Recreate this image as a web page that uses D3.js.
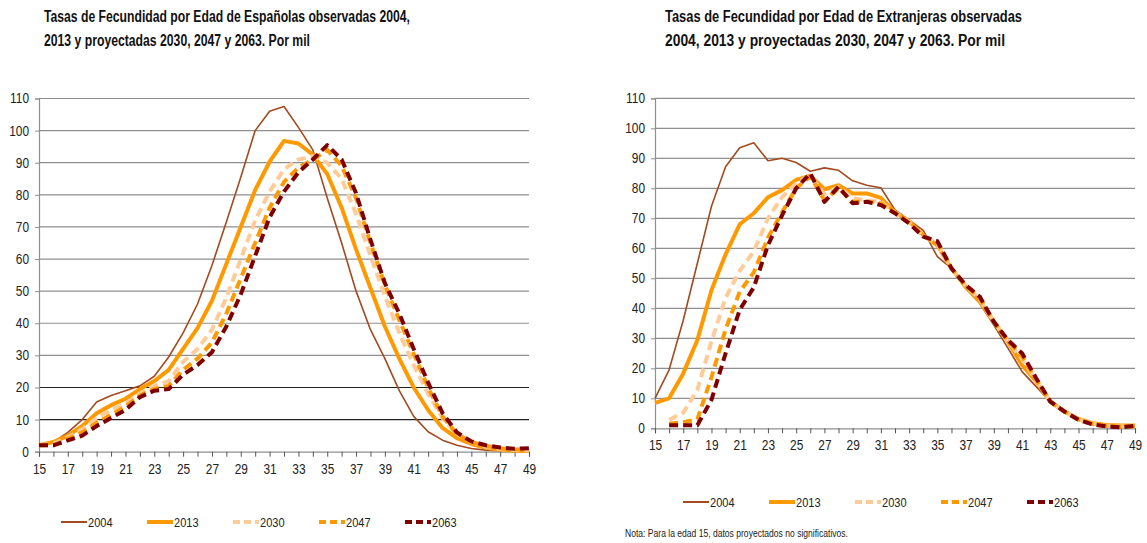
<!DOCTYPE html>
<html>
<head>
<meta charset="utf-8">
<script src="https://cdn.jsdelivr.net/npm/d3@7"></script>
<style>
  body { margin: 0; background: #fff; }
  svg text { font-family: "Liberation Sans", Arial, sans-serif; fill: #222; }
  .title { font-weight: bold; font-size: 16px; fill: #111; }
  .tick text { font-size: 14px; }
  .legend text { font-size: 13px; }
  .note { font-size: 10px; }
</style>
</head>
<body>
<div id="chart"></div>
<script>
// ages shown on the x axis
const ages = [15, 16, 17, 18, 19, 20, 21, 22, 23, 24, 25, 26, 27, 28, 29, 30, 31, 32,
  33, 34, 35, 36, 37, 38, 39, 40, 41, 42, 43, 44, 45, 46, 47, 48, 49];
const years = ["2004", "2013", "2030", "2047", "2063"];
const yTicks = [0, 10, 20, 30, 40, 50, 60, 70, 80, 90, 100, 110];

// Españolas, por mil
const es2004 = [2, 3, 6, 10, 15.5, 17.5, 19, 20.5, 23.5, 29.5, 37, 46, 58, 71.5, 85.5, 100, 106, 107.5,
  101, 94, 79, 65, 50, 38, 29, 19, 11, 6.2, 3.6, 2, 1, 0.5, 0.3, 0.2, 0.1];
const es2013 = [2, 3, 5, 8, 12, 14.5, 16.5, 19.5, 22, 25.5, 32, 38.5, 47, 58.5, 70, 81.5, 90.3, 96.8,
  96, 92.5, 86.5, 76, 63, 51, 39, 29, 20, 13, 7.4, 4.2, 2.4, 1.2, 0.6, 0.3, 0.2];
const es2030 = [2, 2.5, 4.5, 7, 10.5, 13, 15, 18, 20.5, 22, 28, 32, 38, 48, 60, 72, 81, 88,
  91, 92, 90, 85, 74, 61, 48.5, 37, 27, 18, 10.5, 5.5, 3, 1.5, 0.8, 0.5, 0.4];
const es2047 = [2, 2, 4, 6, 9, 11.5, 14, 17.5, 19.5, 20.5, 25.5, 29, 34, 43, 54, 65, 76, 84,
  88.5, 91, 94, 89, 79, 65, 52, 41, 30.5, 20, 11, 5.5, 3, 1.8, 1, 0.7, 0.8];
const es2063 = [2, 2, 3.5, 5, 8, 10.5, 13, 17, 19, 19.5, 24, 27, 31, 39, 49, 61, 73, 81,
  87, 91, 95.5, 91, 80.5, 66, 52.5, 43, 32, 21.5, 12, 6, 3.2, 2, 1.3, 0.9, 1.1];

// Extranjeras, por mil (edad 15 no significativa en proyecciones)
const ex2004 = [10, 19.5, 36, 55, 74, 87.2, 93.5, 95.2, 89.2, 90, 88.6, 85.7, 86.8, 86, 82.5, 81, 80.2, 72.8,
  69.4, 66, 57.2, 53.3, 46.7, 41.7, 34.4, 26.7, 18.9, 13.9, 8.9, 5.6, 2.8, 1.4, 0.8, 0.6, 0.6];
const ex2013 = [8.5, 10, 18.3, 29.4, 46, 58, 68, 71.7, 77, 79.4, 82.8, 84.2, 79.7, 81, 78.3, 78.3, 76.8, 72,
  69, 64.4, 61, 53.3, 47.2, 42.2, 35.5, 28.9, 21.1, 15.6, 8.9, 5.6, 3.1, 1.7, 1.1, 0.9, 0.9];
const ex2030 = [null, 2.8, 5.2, 12.8, 29, 43.5, 52.5, 59, 70, 77, 81.7, 84.4, 78, 80.5, 76.7, 76, 75.5, 72,
  68.8, 64, 61.5, 53.3, 47.5, 43, 35.5, 29, 23, 16, 8.9, 5.6, 3, 1.5, 0.8, 0.6, 0.8];
const ex2047 = [null, 1.5, 2, 3, 17, 33, 45.5, 52, 63.5, 72, 80, 84, 76, 80, 75.5, 75.5, 75, 71.8,
  68.5, 64, 62, 53.3, 47.6, 43.5, 35.5, 29.2, 24, 16.3, 8.9, 5.6, 2.9, 1.4, 0.7, 0.4, 0.8];
const ex2063 = [null, 1, 1, 1, 9.5, 25, 39.5, 47, 61, 71, 80, 85, 75.5, 80.5, 75, 75.5, 74.4, 71.7,
  68.3, 63.9, 62.4, 53.3, 47.8, 43.9, 35.5, 29.4, 25, 16.7, 8.9, 5.6, 2.8, 1.3, 0.6, 0.3, 0.8];

const styles = {
  "2004": { color: "#A34A1F", width: 1.6, dash: null },
  "2013": { color: "#FF9900", width: 4, dash: null },
  "2030": { color: "#FFCC99", width: 4, dash: "9,5" },
  "2047": { color: "#FF9900", width: 4, dash: "9,5" },
  "2063": { color: "#7F0000", width: 4, dash: "9,5" }
};

const svg = d3.select("#chart").append("svg")
  .attr("width", 1147)
  .attr("height", 543);

// the original uses a condensed face; squeeze the glyphs to match its widths
function narrow(sel, factor) {
  sel.each(function () {
    const w = this.getComputedTextLength();
    d3.select(this)
      .attr("textLength", w * factor)
      .attr("lengthAdjust", "spacingAndGlyphs");
  });
}

function drawPanel(cfg) {
  const x = d3.scaleLinear().domain([15, 49]).range([cfg.left, cfg.right]);
  const y = d3.scaleLinear().domain([0, 110]).range([cfg.bottom, cfg.top]);
  const g = svg.append("g");

  // title
  g.selectAll("text.title")
    .data(cfg.title)
    .join("text")
    .attr("class", "title")
    .attr("x", cfg.titleX)
    .attr("y", (d, i) => 22 + i * 24)
    .text(d => d)
    .attr("textLength", (d, i) => cfg.titleW[i])
    .attr("lengthAdjust", "spacingAndGlyphs");

  // gridlines
  g.selectAll("line.grid")
    .data(yTicks.filter(v => v > 0))
    .join("line")
    .attr("x1", cfg.left).attr("x2", cfg.right)
    .attr("y1", d => y(d)).attr("y2", d => y(d))
    .attr("stroke", d => cfg.darkGrid.includes(d) ? "#222" : "#8f8f8f")
    .attr("stroke-width", 1.2);

  // y axis
  const yAxis = g.append("g")
    .attr("transform", `translate(${cfg.left},0)`)
    .call(d3.axisLeft(y).tickValues(yTicks).tickSize(4).tickPadding(6));
  yAxis.select(".domain").attr("stroke", "#8f8f8f").attr("stroke-width", 1.2);
  yAxis.selectAll(".tick line").attr("stroke", "#8f8f8f");
  narrow(yAxis.selectAll(".tick text"), 0.85);

  // x axis
  const xAxis = g.append("g")
    .attr("transform", `translate(0,${cfg.bottom})`)
    .call(d3.axisBottom(x).tickValues(ages).tickSize(5).tickPadding(7)
      .tickFormat(d => d % 2 === 1 ? d : ""));
  xAxis.select(".domain").attr("stroke", "#8f8f8f").attr("stroke-width", 1.2);
  xAxis.selectAll(".tick line").attr("stroke", "#555");
  narrow(xAxis.selectAll(".tick text").filter(function () { return this.textContent !== ""; }), 0.85);

  const line = d3.line()
    .defined(d => d.v != null)
    .x(d => x(d.age))
    .y(d => y(d.v));

  years.forEach((yr, i) => {
    const s = styles[yr];
    const pts = ages.map((a, j) => ({ age: a, v: cfg.series[i][j] }));
    g.append("path")
      .datum(pts)
      .attr("d", line)
      .attr("fill", "none")
      .attr("stroke", s.color)
      .attr("stroke-width", s.width)
      .attr("stroke-dasharray", s.dash)
      .attr("stroke-linejoin", "round");
  });

  // legend
  const leg = g.append("g").attr("class", "legend")
    .attr("transform", `translate(${cfg.legendX},${cfg.legendY})`);
  years.forEach((yr, i) => {
    const s = styles[yr];
    const item = leg.append("g").attr("transform", `translate(${i * 86},0)`);
    item.append("line")
      .attr("x1", 0).attr("x2", 26).attr("y1", 0).attr("y2", 0)
      .attr("stroke", s.color)
      .attr("stroke-width", yr === "2004" ? 2 : 4)
      .attr("stroke-dasharray", s.dash ? "7,4" : null);
    item.append("text")
      .attr("x", 27).attr("y", 5)
      .text(yr);
  });
  narrow(leg.selectAll("text"), 0.85);
}

drawPanel({
  left: 39, right: 529, top: 98.5, bottom: 451.7,
  title: ["Tasas de Fecundidad por Edad de Españolas observadas 2004,",
    "2013 y proyectadas 2030, 2047 y 2063. Por mil"],
  titleW: [366, 266],
  titleX: 44,
  darkGrid: [10, 20],
  series: [es2004, es2013, es2030, es2047, es2063],
  legendX: 61, legendY: 522
});

drawPanel({
  left: 655, right: 1135, top: 98.3, bottom: 428.3,
  title: ["Tasas de Fecundidad por Edad de Extranjeras observadas",
    "2004, 2013 y proyectadas 2030, 2047 y 2063. Por mil"],
  titleW: [357, 340],
  titleX: 665,
  darkGrid: [],
  series: [ex2004, ex2013, ex2030, ex2047, ex2063],
  legendX: 683, legendY: 502
});

svg.append("text")
  .attr("class", "note")
  .attr("x", 625).attr("y", 537)
  .attr("textLength", 223)
  .attr("lengthAdjust", "spacingAndGlyphs")
  .text("Nota: Para la edad 15, datos proyectados no significativos.");
</script>
</body>
</html>
